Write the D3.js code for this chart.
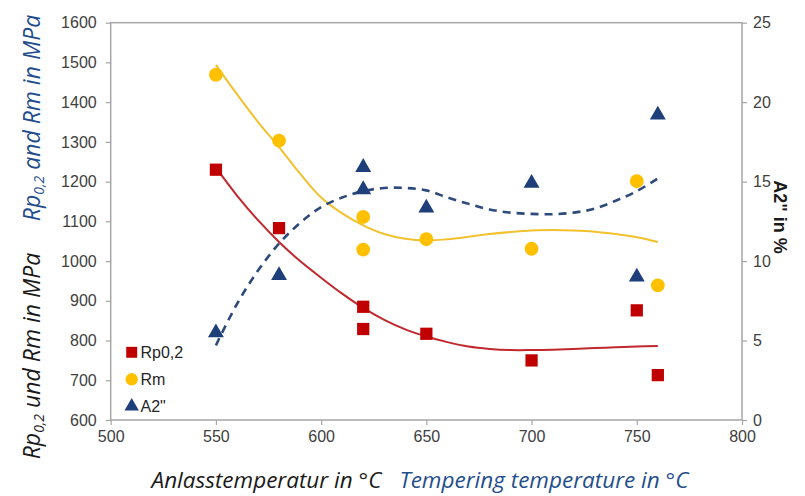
<!DOCTYPE html>
<html><head><meta charset="utf-8">
<script src="https://cdn.jsdelivr.net/npm/d3@7"></script>
<style>body{margin:0;background:#fff;}svg{display:block;}</style>
</head><body>
<svg id="c" width="805" height="496"></svg>
<script>
// ---- data ----
const xTicks = [500,550,600,650,700,750,800];
const yLeftTicks = [600,700,800,900,1000,1100,1200,1300,1400,1500,1600];
const yRightTicks = [0,5,10,15,20,25];
const sampleTemps = [550,580,620,620,650,700,750,760];
const rpValues = [1230,1083,885,829,817,750,876,713];
const rmValues = [1469,1303,1111,1029,1055,1031,1201,939];
const a2Values = [5.5,9.1,15.9,14.5,13.35,14.9,9.0,19.2];
// trend curves
const trendTemps = [550,560,570,580,590,600,610,620,630,640,650,660,670,680,690,700,710,720,730,740,750,760];
const rpTrend = [1235,1165,1103,1048,1000,958,918,882,852,828,810,796,785,779,776,776,777,779,781,783,785,786];
const rmTrend = [1494,1420,1350,1287,1220,1160,1120,1090,1068,1056,1052,1055,1061,1068,1073,1077,1078,1077,1074,1068,1060,1048];
const a2Trend = [4.7,7.3,9.4,11.1,12.4,13.4,14.0,14.4,14.6,14.6,14.45,14.0,13.6,13.25,13.05,12.97,12.95,13.05,13.3,13.8,14.4,15.2];
const legendNames = ["Rp0,2","Rm","A2\""];

// ---- layout ----
const L = 110.7, R = 742, T = 22.7, B = 420;
const svg = d3.select("#c");
const x = d3.scaleLinear().domain([500,800]).range([L,R]);
const yL = d3.scaleLinear().domain([600,1600]).range([B,T]);
const yR = d3.scaleLinear().domain([0,25]).range([B,T]);
const red = "#C00000", yellow = "#FFC000", blue = "#1F3F7A";
const tickFont = "'Liberation Sans', Arial, sans-serif";

// frame
svg.append("rect").attr("x",L).attr("y",T).attr("width",R-L).attr("height",B-T)
  .attr("fill","none").attr("stroke","#A6A6A6").attr("stroke-width",1.5);

// axes
const fmt = d3.format("d");
const axB = svg.append("g").attr("transform",`translate(0,${B})`)
  .call(d3.axisBottom(x).tickValues(xTicks).tickFormat(fmt).tickSize(5).tickPadding(6));
const axL = svg.append("g").attr("transform",`translate(${L},0)`)
  .call(d3.axisLeft(yL).tickValues(yLeftTicks).tickFormat(fmt).tickSize(5).tickPadding(9));
const axR = svg.append("g").attr("transform",`translate(${R},0)`)
  .call(d3.axisRight(yR).tickValues(yRightTicks).tickFormat(fmt).tickSize(5).tickPadding(6));
[axB,axL,axR].forEach(g=>{
  g.select(".domain").remove();
  g.selectAll("line").attr("stroke","#A6A6A6").attr("stroke-width",1.2);
  g.selectAll("text").attr("fill","#404040").style("font-family",tickFont).style("font-size","16px");
});

// trend lines
const line = (yS) => d3.line().x(d=>x(d[0])).y(d=>yS(d[1])).curve(d3.curveCatmullRom.alpha(0.5));
svg.append("path").datum(d3.zip(trendTemps,rmTrend)).attr("d",line(yL))
  .attr("fill","none").attr("stroke","#F2C12E").attr("stroke-width",2);
svg.append("path").datum(d3.zip(trendTemps,rpTrend)).attr("d",line(yL))
  .attr("fill","none").attr("stroke","#C0282D").attr("stroke-width",2);
svg.append("path").datum(d3.zip(trendTemps,a2Trend)).attr("d",line(yR))
  .attr("fill","none").attr("stroke","#2E4A7A").attr("stroke-width",2.6).attr("stroke-dasharray","8,6");

// markers
const sq = d3.symbol().type(d3.symbolSquare).size(150);
const ci = d3.symbol().type(d3.symbolCircle).size(150);
const tr = d3.symbol().type(d3.symbolTriangle).size(110);
svg.append("g").selectAll("path").data(d3.zip(sampleTemps,rpValues)).join("path")
  .attr("d",sq).attr("transform",d=>`translate(${x(d[0])},${yL(d[1])})`).attr("fill",red);
svg.append("g").selectAll("path").data(d3.zip(sampleTemps,rmValues)).join("path")
  .attr("d",ci).attr("transform",d=>`translate(${x(d[0])},${yL(d[1])})`).attr("fill",yellow);
svg.append("g").selectAll("path").data(d3.zip(sampleTemps,a2Values)).join("path")
  .attr("d",tr).attr("transform",d=>`translate(${x(d[0])},${yR(d[1])})`).attr("fill",blue);

// legend
const lg = svg.append("g");
const legSym = [d3.symbol().type(d3.symbolSquare).size(120), d3.symbol().type(d3.symbolCircle).size(120), d3.symbol().type(d3.symbolTriangle).size(90)];
const legCol = [red,yellow,blue];
legendNames.forEach((n,i)=>{
  const yy = 352.3 + i*27;
  lg.append("path").attr("d",legSym[i]).attr("transform",`translate(131.7,${yy})`).attr("fill",legCol[i]);
  lg.append("text").attr("x",140.5).attr("y",yy+5.5).text(n)
    .attr("fill","#262626").style("font-family",tickFont).style("font-size","16px");
});

// axis titles
const titleFont = "'Open Sans', 'Noto Sans', sans-serif";
function leftTitle(cy, word, color){
  const t = svg.append("text").attr("transform",`translate(40,${cy}) rotate(-90)`)
    .attr("text-anchor","middle").attr("fill",color)
    .style("font-family",titleFont).style("font-style","italic").style("font-size","23px");
  t.append("tspan").text("Rp");
  t.append("tspan").text("0,2").style("font-size","14px").attr("dy",4);
  t.append("tspan").text(` ${word} Rm in MPa`).attr("dy",-4);
}
leftTitle(118,"and","#1F4E8C");
leftTitle(356,"und","#1A1A1A");

svg.append("text").attr("transform","translate(774,217) rotate(90)").attr("text-anchor","middle")
  .attr("fill","#1A1A1A").style("font-family",tickFont).style("font-weight","bold").style("font-size","18px")
  .text("A2\" in %");

const bt = svg.append("text").attr("x",420).attr("y",488).attr("text-anchor","middle")
  .style("font-family",titleFont).style("font-style","italic").style("font-size","22.5px");
bt.append("tspan").text("Anlasstemperatur in °C").attr("fill","#1A1A1A");
bt.append("tspan").text("Tempering temperature in °C").attr("fill","#1F4E8C").attr("dx",18);
</script>
</body></html>
